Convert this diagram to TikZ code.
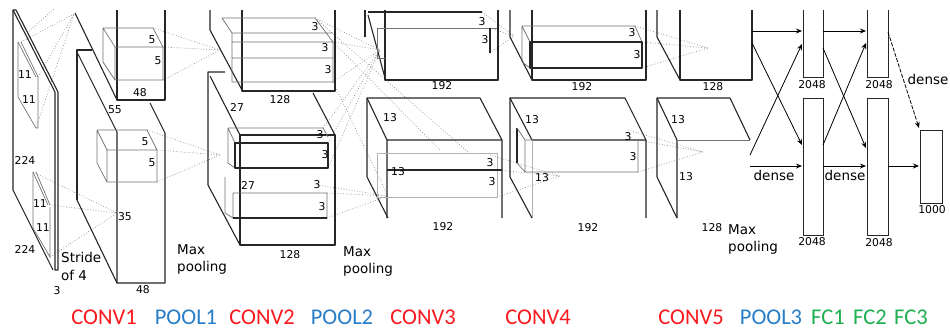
\documentclass[tikz,border=0pt]{standalone}
\usepackage{fontspec}
\setmainfont{DejaVu Sans}
\newfontfamily\calib{Carlito}
\usetikzlibrary{arrows.meta}
\definecolor{cred}{RGB}{250,25,30}
\definecolor{cblue}{RGB}{40,125,200}
\definecolor{cgreen}{RGB}{30,175,80}
\tikzset{
  edge/.style={line width=1.1pt, black!85, line join=round},
  thin/.style={line width=0.7pt, black!55},
  faint/.style={line width=0.7pt, black!30},
  dots/.style={line width=0.7pt, black!45, dotted},
  num/.style={inner sep=0pt, font=\fontsize{10.8}{12}\selectfont},
  big/.style={inner sep=0pt, font=\fontsize{13.5}{16}\selectfont, align=left},
  tag/.style={inner sep=0pt, anchor=base, text height=15pt, text depth=0pt, font=\calib\fontsize{22.5}{24}\selectfont},
  fc/.style={line width=0.9pt, black!85},
  arr/.style={line width=0.8pt, black, -{Stealth[length=6pt,width=5pt]}}
}
\begin{document}
\begin{tikzpicture}[x=1pt,y=-1pt]
\fill[white] (0,0) rectangle (950,330);
\path[use as bounding box] (0,0) rectangle (950,330);

% ---------------- dotted receptive-field lines
\coordinate (a1) at (74,14);
\coordinate (a2) at (117,213);
\coordinate (a3) at (220,50);
\coordinate (a4) at (220,155);
\coordinate (a5) at (380,50);
\coordinate (a6) at (388,196);
\coordinate (a7) at (514,36);
\coordinate (a8) at (560,176);
\coordinate (a9) at (708,48);
\coordinate (a10) at (703,152);
\draw[dots] (21,42) -- (a1) (38,77) -- (a1) (36,128) -- (a1) (27,33) -- (55,8);
\draw[dots] (33,172) -- (a2) (50,205) -- (a2) (50,257) -- (a2);
\draw[dots] (153,28) -- (a3) (163,47) -- (a3) (163,80) -- (a3);
\draw[dots] (147,130) -- (a4) (157,150) -- (a4) (157,182) -- (a4);
\draw[dots] (315,18) -- (a5) (333,42) -- (a5) (333,82) -- (a5);
\draw[dots] (315,18) -- (468,152) (333,42) -- (440,150) (333,82) -- (a6);
\draw[dots] (323,128) -- (a5) (328,143) -- (a5) (328,168) -- (a5);
\draw[dots] (317,185) -- (a6) (327,193) -- (a6) (327,218) -- (a6);
\draw[dots] (482,12) -- (a7) (490,28) -- (a7) (490,53) -- (a7);
\draw[dots] (490,155) -- (a8) (497,170) -- (a8) (497,197) -- (a8);
\draw[dots] (635,26) -- (a9) (642,42) -- (a9) (642,68) -- (a9);
\draw[dots] (628,130) -- (a10) (638,140) -- (a10) (638,172) -- (a10);

% ---------------- input
\draw[edge] (13,10) -- (13,190) -- (53,270);
\draw[edge] (13,10) -- (55,92) -- (55,270) -- (58,270) -- (58,92) -- (16,10) -- cycle;
\draw[thin] (18,42) -- (18,97) -- (36,128) -- (38,128) -- (38,77);
\draw[thin] (18,42) -- (36,77) (21,42) -- (38,77);
\draw[thin] (33,172) -- (33,228) -- (50,257) -- (50,207);
\draw[thin] (33,172) -- (48,205) (36,172) -- (50,205);
\node[num] at (25,75) {11};
\node[num] at (29,100) {11};
\node[num] at (40,204) {11};
\node[num] at (43,228) {11};
\node[num] at (25,160) {224};
\node[num] at (25,249) {224};
\node[num] at (57,291) {3};
\node[big, anchor=west] at (61,257) {Stride};
\node[big, anchor=west] at (61,275) {of 4};

% ---------------- conv1
\draw[edge] (117,10) -- (117,100) -- (165,100) -- (165,10);
\draw[edge] (75,13) -- (117,100);
\draw[edge] (77,200) -- (77,50) -- (92,50);
\draw[edge] (78,54) -- (117,132);
\draw[edge] (117,132) -- (117,283) -- (165,283) -- (165,133) -- (150,103);
\draw[edge] (77,200) -- (117,283);
\draw[thin] (115,47) rectangle (163,80) (103,28) -- (153,28) -- (163,47) (103,28) -- (103,62) -- (115,80) (103,28) -- (115,47);
\draw[thin] (107,150) rectangle (157,182) (97,130) -- (147,130) -- (157,150) (97,130) -- (97,163) -- (107,182) (97,130) -- (107,150);
\node[num] at (152,40) {5};
\node[num] at (158,61) {5};
\node[num] at (145,142) {5};
\node[num] at (152,163) {5};
\node[num] at (115,110) {55};
\node[num] at (125,217) {35};
\node[num] at (140,93) {48};
\node[num] at (143,290) {48};
\node[big, anchor=west] at (177,250) {Max};
\node[big, anchor=west] at (177,268) {pooling};

% ---------------- conv2
\draw[edge] (210,10) -- (210,30) -- (242,90);
\draw[edge] (242,10) -- (242,91) -- (335,91) -- (335,10);
\draw[thin] (222,18) -- (315,18) -- (333,42) (222,18) -- (232,33) -- (232,82) (232,33) -- (333,33) (232,42) -- (333,42) -- (333,82) -- (232,82) (232,58) -- (333,58);
\draw[edge] (225,72) -- (208,72) -- (208,185) -- (240,245);
\draw[edge] (210,76) -- (240,135);
\draw[edge] (240,135) rectangle (335,245);
\draw[edge] (313,93) -- (335,135);
\draw[thin] (228,128) -- (323,128) -- (328,137) (228,128) -- (228,163) -- (235,168) (228,128) -- (235,143);
\draw[edge] (235,143) rectangle (328,168);
\draw[thin] (225,177) -- (225,213) -- (233,218) (233,193) rectangle (327,218);
\draw[edge] (233,218) -- (327,218);
\node[num] at (315,27) {3};
\node[num] at (325,48) {3};
\node[num] at (328,70) {3};
\node[num] at (320,135) {3};
\node[num] at (325,155) {3};
\node[num] at (317,185) {3};
\node[num] at (322,207) {3};
\node[num] at (237,107) {27};
\node[num] at (248,185) {27};
\node[num] at (280,100) {128};
\node[num] at (290,255) {128};
\node[big, anchor=west] at (343,252) {Max};
\node[big, anchor=west] at (343,270) {pooling};

% ---------------- conv3
\draw[edge] (365,10) -- (365,37);
\draw[edge] (368,15) -- (385,78);
\draw[edge] (385,10) -- (385,80) -- (498,80) -- (498,10);
\draw[edge] (368,12) -- (482,12);
\draw[thin] (377,28) -- (497,28) (377,28) -- (377,58) -- (385,58);
\draw[edge] (490,28) -- (490,53);
\draw[edge] (367,177) -- (367,98) -- (480,98) -- (502,140) -- (502,218);
\draw[edge] (367,98) -- (387,140) -- (387,218) (387,140) -- (502,140);
\draw[edge] (367,177) -- (388,218);
\draw[faint] (377,153) rectangle (497,197);
\draw[edge] (387,170) -- (502,170);
\node[num] at (482,22) {3};
\node[num] at (485,40) {3};
\node[num] at (390,118) {13};
\node[num] at (398,172) {13};
\node[num] at (490,163) {3};
\node[num] at (492,182) {3};
\node[num] at (442,86) {192};
\node[num] at (443,227) {192};

% ---------------- conv4
\draw[edge] (510,10) -- (510,37) -- (532,80);
\draw[edge] (532,10) -- (532,80) -- (646,80) -- (646,10);
\draw[thin] (522,26) -- (635,26) -- (642,42) (522,26) -- (530,42) (522,26) -- (522,62) -- (530,68);
\draw[edge] (530,42) rectangle (642,68);
\draw[edge] (510,177) -- (510,98) -- (625,98) -- (646,140) -- (646,218);
\draw[edge] (510,98) -- (532,140) -- (646,140);
\draw[faint] (532,140) -- (532,218);
\draw[edge] (510,177) -- (532,218);
\draw[edge] (517,128) -- (517,163);
\draw[thin] (517,128) -- (525,140) (517,163) -- (525,172) (525,140) rectangle (638,172);
\node[num] at (632,33) {3};
\node[num] at (637,55) {3};
\node[num] at (532,120) {13};
\node[num] at (542,178) {13};
\node[num] at (628,137) {3};
\node[num] at (633,157) {3};
\node[num] at (582,87) {192};
\node[num] at (588,228) {192};

% ---------------- conv5
\draw[edge] (657,10) -- (657,37) -- (680,80);
\draw[edge] (680,10) -- (680,80) -- (752,80) -- (752,10);
\draw[edge] (657,177) -- (657,98) -- (730,98) -- (750,140);
\draw[edge] (657,98) -- (677,140) -- (677,218);
\draw[thin] (677,140) -- (750,140);
\draw[edge] (657,177) -- (677,218);
\node[num] at (678,120) {13};
\node[num] at (686,177) {13};
\node[num] at (713,87) {128};
\node[num] at (712,228) {128};
\node[big, anchor=west] at (728,230) {Max};
\node[big, anchor=west] at (728,248) {pooling};

% ---------------- fully connected
\draw[fc] (803,10) -- (803,77) -- (823,77) -- (823,10);
\node[fc, draw, minimum width=20pt, minimum height=137pt, inner sep=0pt] (f1b) at (813,166.5) {};
\draw[fc] (867,10) -- (867,77) -- (888,77) -- (888,10);
\node[fc, draw, minimum width=21pt, minimum height=137pt, inner sep=0pt] (f2b) at (877.5,166.5) {};
\node[fc, draw, minimum width=22pt, minimum height=73pt, inner sep=0pt] (f3) at (931,166.5) {};
\node[num] at (812,85) {2048};
\node[num] at (812,242) {2048};
\node[num] at (879,85) {2048};
\node[num] at (879,243) {2048};
\node[num] at (932,210) {1000};

\coordinate (s1) at (752,31);  \coordinate (t1) at (802,31);
\coordinate (s2) at (752,43);  \coordinate (t2) at (802,145);
\coordinate (s3) at (750,155); \coordinate (t3) at (802,44);
\coordinate (s4) at (750,166); \coordinate (t4) at (802,166);
\coordinate (u1) at (823,31);  \coordinate (v1) at (866,31);
\coordinate (u2) at (823,48);  \coordinate (v2) at (866,148);
\coordinate (u3) at (823,145); \coordinate (v3) at (866,43);
\coordinate (u4) at (823,166); \coordinate (v4) at (866,166);
\coordinate (w1) at (888,32);  \coordinate (z1) at (919,128);
\coordinate (w2) at (888,166); \coordinate (z2) at (919,166);
\draw[arr] (s1) -- (t1);
\draw[arr] (s2) -- (t2);
\draw[arr] (s3) -- (t3);
\draw[arr] (s4) -- (t4);
\draw[arr] (u1) -- (v1);
\draw[arr] (u2) -- (v2);
\draw[arr] (u3) -- (v3);
\draw[arr] (u4) -- (v4);
\draw[arr, dashed, dash pattern=on 4pt off 1.5pt] (w1) -- (z1);
\draw[arr] (w2) -- (z2);
\node[big] at (774,175) {dense};
\node[big] at (845,175) {dense};
\node[big] at (928,79) {dense};

% ---------------- bottom tags
\node[tag, text=cred] at (104,324) {CONV1};
\node[tag, text=cblue] at (186,324) {POOL1};
\node[tag, text=cred] at (262,324) {CONV2};
\node[tag, text=cblue] at (342,324) {POOL2};
\node[tag, text=cred] at (423,324) {CONV3};
\node[tag, text=cred] at (538,324) {CONV4};
\node[tag, text=cred] at (691,324) {CONV5};
\node[tag, text=cblue] at (771,324) {POOL3};
\node[tag, text=cgreen] at (828,324) {FC1};
\node[tag, text=cgreen] at (870,324) {FC2};
\node[tag, text=cgreen] at (911,324) {FC3};
\end{tikzpicture}
\end{document}
